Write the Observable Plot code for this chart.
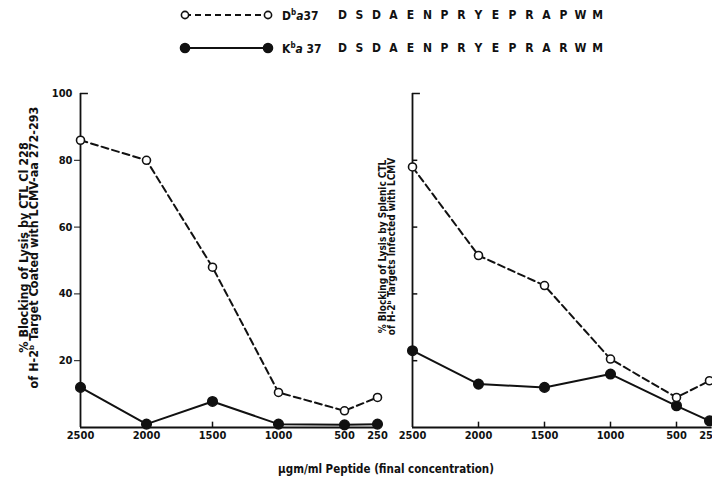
<!DOCTYPE html>
<html>
<head>
<meta charset="utf-8">
<script src="https://cdn.jsdelivr.net/npm/d3@7"></script>
<script src="https://cdn.jsdelivr.net/npm/@observablehq/plot@0.6"></script>
<style>
  html, body { margin: 0; padding: 0; background: white; }
  #wrap { position: relative; width: 712px; height: 483px; overflow: hidden; background: white;
    font-family: "Liberation Sans Narrow", "DejaVu Sans Condensed", "Roboto Condensed", sans-serif; font-weight: bold; color: #111; }
  .legrow { position: absolute; left: 178px; height: 20px; display: flex; align-items: center; font-size: 12px; }
  .legrow svg { display: block; }
  .legname { width: 52px; margin-left: 8px; white-space: nowrap; }
  .legname sup { font-size: 8px; }
  .seq span { display: inline-block; width: 17px; text-align: center; }
  #xtitle { position: absolute; top: 462px; left: 386px; transform: translateX(-50%); font-size: 11.5px; white-space: nowrap; }
  .panel { position: absolute; top: 70px; }
</style>
</head>
<body>
<div id="wrap">
  <div class="legrow" id="leg1" style="top:5px"></div>
  <div class="legrow" id="leg2" style="top:38px"></div>
  <div class="panel" id="left" style="left:0px"></div>
  <div class="panel" id="right" style="left:332px"></div>
  <div id="xtitle"></div>
</div>
<script>
// ---- data ----
const concentrations = [2500, 2000, 1500, 1000, 500, 250];
const xTickLabels = ["2500", "2000", "1500", "1000", "500", "250"];
const yTicks = [20, 40, 60, 80, 100];
const seriesNames = ["Dᵇα37", "Kᵇα37"];
const sequences = ["DSDAENPRYEPRAPWM", "DSDAENPRYEPRARWM"];
const leftDb = [86, 80, 48, 10.5, 5, 9];
const leftKb = [12, 1, 7.8, 1, 0.8, 1];
const rightDb = [78, 51.5, 42.5, 20.5, 9, 14];
const rightKb = [23, 13, 12, 16, 6.5, 2];
const leftYLabel = "% Blocking of Lysis by CTL Cl 228\nof H-2ᵇ Target Coated with LCMV-aa 272-293";
const rightYLabel = "% Blocking of Lysis by Splenic CTL\nof H-2ᵇ Targets Infected with LCMV";
const xTitle = "μgm/ml Peptide (final concentration)";

// ---- legend ----
function legend(el, dashed, filled, nameHtml, seq) {
  const svgNS = "http://www.w3.org/2000/svg";
  const s = document.createElementNS(svgNS, "svg");
  s.setAttribute("width", 96); s.setAttribute("height", 20);
  s.innerHTML = `<line x1="7" y1="10" x2="90" y2="10" stroke="#111" stroke-width="2" ${dashed ? 'stroke-dasharray="6,4"' : ''}/>
    <circle cx="7" cy="10" r="${filled ? 4.5 : 3.6}" fill="${filled ? '#111' : 'white'}" stroke="#111" stroke-width="1.6"/>
    <circle cx="90" cy="10" r="${filled ? 4.5 : 3.6}" fill="${filled ? '#111' : 'white'}" stroke="#111" stroke-width="1.6"/>`;
  el.appendChild(s);
  const n = document.createElement("div"); n.className = "legname"; n.innerHTML = nameHtml; el.appendChild(n);
  const q = document.createElement("div"); q.className = "seq";
  q.innerHTML = seq.split("").map(c => `<span>${c}</span>`).join("");
  el.appendChild(q);
}
legend(document.getElementById("leg1"), true, false, "D<sup>b</sup><i>a</i>37", sequences[0]);
legend(document.getElementById("leg2"), false, true, "K<sup>b</sup><i>a</i> 37", sequences[1]);
document.getElementById("xtitle").textContent = xTitle;

// ---- panels ----
function panel(db, kb, isLeft) {
  const dataDb = concentrations.map((c, i) => ({c, v: db[i]}));
  const dataKb = concentrations.map((c, i) => ({c, v: kb[i]}));
  const marks = [
    Plot.ruleX([2500], {y1: 0, y2: 100, stroke: "#111", strokeWidth: 1.8}),
    Plot.ruleY([0], {x1: 2500, x2: isLeft ? 240 : 230, stroke: "#111", strokeWidth: 1.8}),
    Plot.ruleY([100], {x1: 2500, x2: 2440, stroke: "#111", strokeWidth: 1.5}),
    Plot.ruleX(concentrations.slice(1, 5), {y1: 0, y2: 1.6, stroke: "#111", strokeWidth: 1.5}),
    Plot.axisX({ticks: concentrations, tickSize: 0, tickPadding: 4, label: null,
      tickFormat: d => xTickLabels[concentrations.indexOf(d)]}),
    Plot.line(dataKb, {x: "c", y: "v", stroke: "#111", strokeWidth: 2}),
    Plot.line(dataDb, {x: "c", y: "v", stroke: "#111", strokeWidth: 2, strokeDasharray: "7,4"}),
    Plot.dot(dataKb, {x: "c", y: "v", r: 4.8, fill: "#111", stroke: "#111"}),
    Plot.dot(dataDb, {x: "c", y: "v", r: 4, fill: "white", stroke: "#111", strokeWidth: 1.6})
  ];
  if (isLeft) {
    marks.push(
      Plot.axisY({ticks: yTicks.slice(0, 4), tickSize: 6, tickPadding: 2, label: null, tickFormat: d => String(d)}),
      Plot.axisY({ticks: [100], tickSize: 0, tickPadding: 8, label: null, tickFormat: d => String(d)}),
      Plot.text([leftYLabel], {frameAnchor: "left", rotate: -90, text: d => d, dx: -51, dy: -13,
        fontSize: 12.5, lineHeight: 0.8, textAnchor: "middle", lineAnchor: "middle"})
    );
  } else {
    marks.push(
      Plot.ruleY(yTicks.slice(0, 4), {x1: 2500, x2: 2460, stroke: "#111", strokeWidth: 1.5}),
      Plot.text([rightYLabel], {frameAnchor: "left", rotate: -90, text: d => d, dx: -25, dy: -14,
        fontSize: 10, lineHeight: 0.95, textAnchor: "middle", lineAnchor: "middle"})
    );
  }
  return Plot.plot({
    width: 380, height: 380,
    marginLeft: 80, marginRight: 3, marginTop: 23, marginBottom: 23,
    x: {domain: [2500, 250], axis: null},
    y: {domain: [0, 100], axis: null},
    style: {background: "transparent", overflow: "visible", color: "#111",
      fontFamily: '"Liberation Sans Narrow", "DejaVu Sans Condensed", sans-serif', fontWeight: "bold", fontSize: "11px"},
    marks
  });
}
document.getElementById("left").appendChild(panel(leftDb, leftKb, true));
document.getElementById("right").appendChild(panel(rightDb, rightKb, false));
</script>
</body>
</html>
